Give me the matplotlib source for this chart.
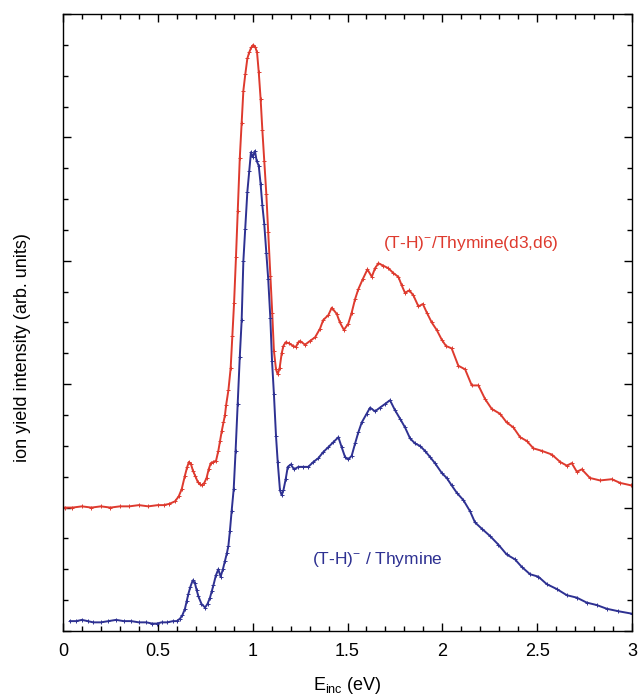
import numpy as np
import matplotlib
matplotlib.use("Agg")
import matplotlib.pyplot as plt
from matplotlib.ticker import MultipleLocator, NullFormatter

plt.rcParams["font.family"] = ["Liberation Sans", "DejaVu Sans"]
plt.rcParams["mathtext.fontset"] = "custom"
plt.rcParams["mathtext.rm"] = "Liberation Sans"
plt.rcParams["mathtext.it"] = "Liberation Sans"
plt.rcParams["mathtext.bf"] = "Liberation Sans"

# (T-H)- / Thymine(d3,d6), offset spectrum (red)
red_x = [0.01, 0.05, 0.1, 0.15, 0.2, 0.25, 0.3, 0.35, 0.4, 0.45, 0.5, 0.53, 0.56,
         0.59, 0.61, 0.626, 0.643, 0.655, 0.664, 0.675, 0.685, 0.696, 0.71, 0.72,
         0.731, 0.745, 0.757, 0.768, 0.779, 0.793, 0.807, 0.819, 0.828, 0.837,
         0.846, 0.854, 0.860, 0.872, 0.884, 0.893, 0.902, 0.912, 0.921, 0.932,
         0.942, 0.951, 0.961, 0.972, 0.982, 0.993, 1.003, 1.014, 1.023, 1.032,
         1.042, 1.051, 1.061, 1.072, 1.082, 1.093, 1.103, 1.112, 1.123, 1.132,
         1.142, 1.153, 1.162, 1.174, 1.193, 1.214, 1.227, 1.241, 1.250, 1.276,
         1.302, 1.329, 1.355, 1.372, 1.399, 1.417, 1.443, 1.460, 1.481, 1.504,
         1.522, 1.540, 1.557, 1.580, 1.605, 1.628, 1.645, 1.663, 1.689, 1.715,
         1.742, 1.768, 1.786, 1.803, 1.826, 1.847, 1.874, 1.897, 1.918, 1.944,
         1.970, 1.997, 2.019, 2.049, 2.084, 2.120, 2.155, 2.190, 2.225, 2.260,
         2.304, 2.339, 2.374, 2.410, 2.445, 2.480, 2.524, 2.577, 2.621, 2.656,
         2.682, 2.709, 2.735, 2.778, 2.831, 2.893, 2.937, 2.995]
red_y = [1.00, 1.00, 1.01, 1.00, 1.01, 1.00, 1.01, 1.01, 1.02, 1.01, 1.02, 1.02, 1.03,
         1.05, 1.09, 1.15, 1.26, 1.33, 1.37, 1.35, 1.30, 1.26, 1.21, 1.19,
         1.18, 1.20, 1.24, 1.31, 1.36, 1.37, 1.38, 1.46, 1.54, 1.62,
         1.69, 1.75, 1.83, 1.95, 2.13, 2.39, 2.66, 3.03, 3.40, 3.83,
         4.12, 4.38, 4.51, 4.64, 4.69, 4.73, 4.75, 4.73, 4.69, 4.53,
         4.31, 4.06, 3.81, 3.54, 3.23, 2.88, 2.58, 2.27, 2.12, 2.08,
         2.13, 2.25, 2.31, 2.34, 2.33, 2.31, 2.30, 2.34, 2.35, 2.32,
         2.35, 2.38, 2.45, 2.52, 2.56, 2.62, 2.57, 2.50, 2.44, 2.49,
         2.58, 2.69, 2.77, 2.85, 2.93, 2.87, 2.94, 2.98, 2.96, 2.94,
         2.90, 2.87, 2.80, 2.74, 2.76, 2.72, 2.63, 2.65, 2.58, 2.50,
         2.44, 2.36, 2.31, 2.29, 2.15, 2.12, 1.99, 1.99, 1.88, 1.80,
         1.76, 1.69, 1.65, 1.57, 1.54, 1.48, 1.46, 1.43, 1.37, 1.34,
         1.36, 1.29, 1.31, 1.24, 1.22, 1.23, 1.20, 1.18]

# (T-H)- / Thymine (blue)
blue_x = [0.037, 0.07, 0.1, 0.13, 0.16, 0.2, 0.24, 0.28, 0.32, 0.36, 0.4, 0.44, 0.47,
          0.494, 0.52, 0.55, 0.58, 0.6, 0.617, 0.63, 0.643, 0.652, 0.661, 0.672,
          0.684, 0.695, 0.705, 0.714, 0.73, 0.749, 0.762, 0.775, 0.784, 0.793,
          0.806, 0.819, 0.831, 0.843, 0.854, 0.864, 0.872, 0.880, 0.889, 0.900,
          0.910, 0.921, 0.932, 0.942, 0.951, 0.961, 0.972, 0.982, 0.991, 1.000,
          1.012, 1.021, 1.032, 1.042, 1.051, 1.061, 1.072, 1.082, 1.093, 1.102,
          1.112, 1.123, 1.132, 1.144, 1.153, 1.162, 1.174, 1.185, 1.201, 1.218,
          1.241, 1.267, 1.293, 1.320, 1.346, 1.372, 1.399, 1.425, 1.452, 1.469,
          1.487, 1.504, 1.522, 1.540, 1.557, 1.575, 1.601, 1.619, 1.645, 1.671,
          1.698, 1.724, 1.750, 1.777, 1.803, 1.830, 1.856, 1.882, 1.908, 1.935,
          1.961, 1.997, 2.023, 2.049, 2.076, 2.111, 2.146, 2.172, 2.207, 2.251,
          2.295, 2.339, 2.383, 2.418, 2.462, 2.506, 2.550, 2.603, 2.656, 2.709,
          2.761, 2.814, 2.867, 2.928, 3.0]
blue_y = [0.08, 0.08, 0.09, 0.08, 0.07, 0.07, 0.08, 0.09, 0.08, 0.08, 0.07, 0.07, 0.06,
          0.06, 0.07, 0.07, 0.08, 0.08, 0.10, 0.13, 0.18, 0.24, 0.30, 0.36,
          0.41, 0.39, 0.33, 0.28, 0.22, 0.19, 0.22, 0.27, 0.32, 0.37,
          0.45, 0.50, 0.44, 0.50, 0.57, 0.63, 0.69, 0.81, 0.97, 1.15,
          1.46, 1.84, 2.22, 2.52, 3.00, 3.26, 3.56, 3.73, 3.88, 3.84,
          3.89, 3.81, 3.77, 3.62, 3.45, 3.30, 3.06, 2.85, 2.54, 2.19,
          1.92, 1.58, 1.37, 1.14, 1.10, 1.14, 1.23, 1.33, 1.35, 1.31,
          1.33, 1.33, 1.33, 1.37, 1.40, 1.45, 1.49, 1.53, 1.57, 1.49,
          1.41, 1.39, 1.42, 1.52, 1.61, 1.69, 1.76, 1.81, 1.78, 1.81,
          1.84, 1.87, 1.79, 1.72, 1.65, 1.56, 1.52, 1.50, 1.46, 1.41,
          1.36, 1.28, 1.24, 1.18, 1.12, 1.06, 0.97, 0.88, 0.83, 0.77,
          0.70, 0.62, 0.58, 0.52, 0.46, 0.44, 0.38, 0.34, 0.29, 0.27,
          0.23, 0.21, 0.18, 0.16, 0.14]

red_col = "#DE3A2E"
blue_col = "#2E3192"

fig = plt.figure(figsize=(6.38, 7.0), dpi=100)
ax = fig.add_axes([0.0987, 0.0986, 0.892, 0.8814])

ax.plot(red_x, red_y, color=red_col, lw=1.4, marker="+", ms=3.2, mew=0.7)
ax.plot(blue_x, blue_y, color=blue_col, lw=1.4, marker="+", ms=3.2, mew=0.7)

ax.text(2.15, 3.14, "(T-H)$^{-}$/Thymine(d3,d6)", color=red_col, fontsize=12.5,
        ha="center", va="center")
ax.text(1.656, 0.58, "(T-H)$^{-}$ / Thymine", color=blue_col, fontsize=12.5,
        ha="center", va="center")

ax.set_xlim(0, 3)
ax.set_ylim(0, 5)
ax.xaxis.set_major_locator(MultipleLocator(0.5))
ax.xaxis.set_minor_locator(MultipleLocator(0.1))
ax.yaxis.set_major_locator(MultipleLocator(1))
ax.yaxis.set_minor_locator(MultipleLocator(0.25))
ax.yaxis.set_major_formatter(NullFormatter())
ax.set_xticks([0, 0.5, 1, 1.5, 2, 2.5, 3])
ax.set_xticklabels(["0", "0.5", "1", "1.5", "2", "2.5", "3"])

ax.tick_params(which="both", direction="in", top=True, right=True, width=1.0)
ax.tick_params(which="major", length=6, labelsize=13, pad=9)
ax.tick_params(which="minor", length=3.5)
for s in ax.spines.values():
    s.set_linewidth(1.0)

ax.set_xlabel("E$_{\\rm inc}$ (eV)", fontsize=13)
ax.xaxis.set_label_coords(0.5, -0.071)
ax.set_ylabel("ion yield intensity (arb. units)", fontsize=13)
ax.yaxis.set_label_coords(-0.057, 0.46)

fig.savefig("out.png", dpi=100)
